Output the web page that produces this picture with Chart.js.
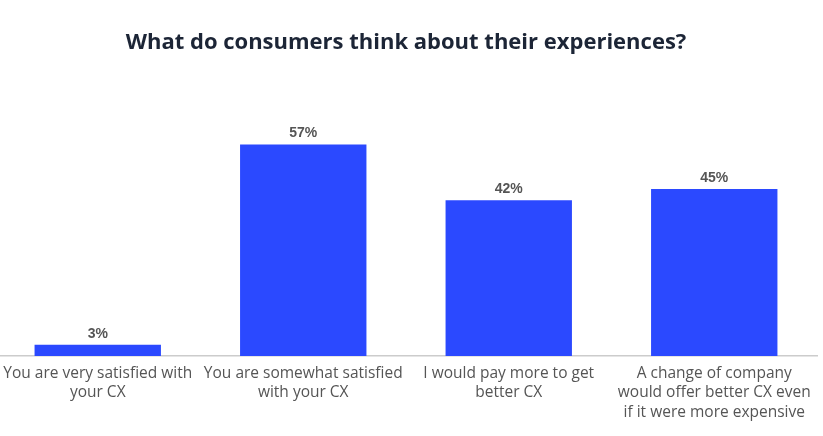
<!DOCTYPE html>
<html>
<head>
<meta charset="utf-8">
<script src="https://cdn.jsdelivr.net/npm/chart.js@4.4.1/dist/chart.umd.min.js"></script>
<style>
  html, body { margin: 0; padding: 0; background: #fff; overflow: hidden; }
  #wrap { width: 823px; height: 436px; overflow: hidden; }
  #cxChart { margin-left: -5px; display: block; }
</style>
</head>
<body>
<div id="wrap"><canvas id="cxChart" width="828" height="436"></canvas></div>
<script>
const categories = [
  ['You are very satisfied with', 'your CX'],
  ['You are somewhat satisfied', 'with your CX'],
  ['I would pay more to get', 'better CX'],
  ['A change of company', 'would offer better CX even', 'if it were more expensive']
];
const shares = [3, 57, 42, 45];

// draws the "57%" style labels above each bar
const valueLabels = {
  id: 'valueLabels',
  afterDatasetsDraw(chart) {
    const c = chart.ctx;
    const meta = chart.getDatasetMeta(0);
    c.save();
    c.font = 'bold 14px "Liberation Sans", Arial, sans-serif';
    c.fillStyle = '#555555';
    c.textAlign = 'center';
    c.textBaseline = 'bottom';
    meta.data.forEach((bar, i) => {
      c.fillText(shares[i] + '%', bar.x, bar.y - 4);
    });
    c.restore();
  }
};

const ctx = document.getElementById('cxChart').getContext('2d');
new Chart(ctx, {
  type: 'bar',
  data: {
    labels: categories,
    datasets: [{
      data: shares,
      backgroundColor: '#2B49FF',
      borderWidth: 0,
      barPercentage: 1,
      categoryPercentage: 0.615
    }]
  },
  options: {
    responsive: false,
    animation: false,
    layout: { padding: { left: 0, right: 6, top: 0, bottom: 14 } },
    plugins: {
      legend: { display: false },
      tooltip: { enabled: false },
      title: {
        display: true,
        text: 'What do consumers think about their experiences?',
        color: '#1c2536',
        font: { family: '"Open Sans", sans-serif', size: 22, weight: 'bold' },
        padding: { top: 30, bottom: 77 }
      }
    },
    scales: {
      x: {
        grid: { display: false },
        border: { display: true, color: '#cccccc', width: 1.5 },
        ticks: {
          color: '#555555',
          maxRotation: 0,
          autoSkip: false,
          padding: 0,
          font: { family: '"Open Sans", sans-serif', size: 15.5, lineHeight: 1.25 }
        }
      },
      y: {
        display: false,
        min: 0,
        max: 60
      }
    }
  },
  plugins: [valueLabels]
});
</script>
</body>
</html>
